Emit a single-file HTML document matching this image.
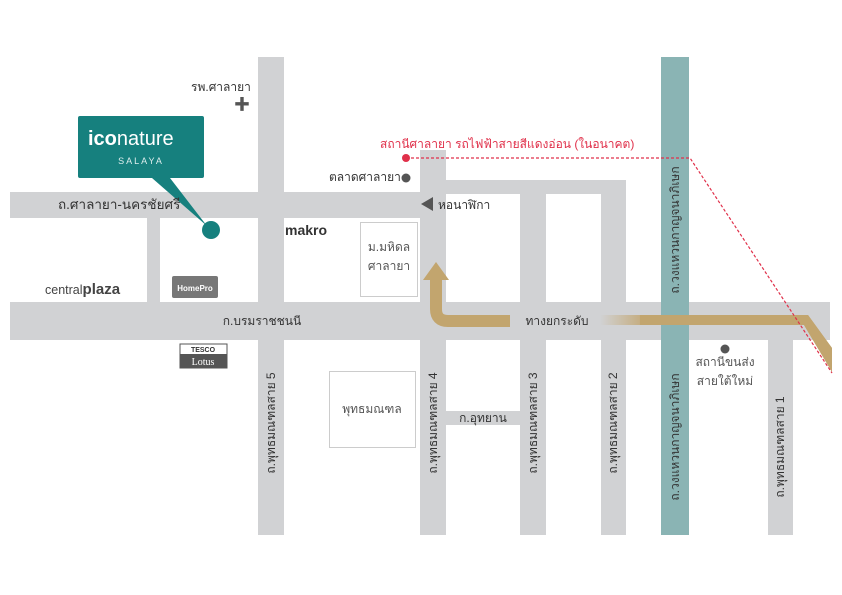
<!DOCTYPE html>
<html><head><meta charset="utf-8"><style>
html,body{margin:0;padding:0;background:#fff;}
svg{display:block;font-family:"Liberation Sans","Noto Sans CJK SC","WenQuanYi Zen Hei",sans-serif;}
</style></head><body>
<svg width="842" height="595" viewBox="0 0 842 595" xmlns="http://www.w3.org/2000/svg">
<defs>
<linearGradient id="gf" x1="600" y1="0" x2="650" y2="0" gradientUnits="userSpaceOnUse">
<stop offset="0" stop-color="#c2a56e" stop-opacity="0"/><stop offset="1" stop-color="#c2a56e" stop-opacity="1"/>
</linearGradient>
</defs>
<g fill="#d1d2d4">
<rect x="10" y="192" width="436" height="26"/>
<rect x="420" y="180" width="206" height="14"/>
<rect x="420" y="150" width="26" height="385"/>
<rect x="258" y="57" width="26" height="478"/>
<rect x="147" y="216" width="13" height="90"/>
<rect x="520" y="180" width="26" height="355"/>
<rect x="601" y="180" width="25" height="355"/>
<rect x="768" y="320" width="25" height="215"/>
<rect x="10" y="302" width="820" height="38"/>
<rect x="446" y="411" width="74" height="14"/>
</g>
<rect x="661" y="57" width="28" height="478" fill="#8ab4b4"/>
<rect x="360.5" y="222.5" width="57" height="74" fill="#fff" stroke="#ccc"/>
<rect x="329.5" y="371.5" width="86" height="76" fill="#fff" stroke="#ccc"/>
<path d="M510 321 H448 Q436 321 436 309 V278" fill="none" stroke="#c2a56e" stroke-width="12"/>
<polygon points="423,280 449,280 436,262" fill="#c2a56e"/>
<polygon points="600,315 808,315 832,348 832,372 804,325 600,325" fill="url(#gf)"/>
<polygon points="640,315 808,315 832,348 832,372 804,325 640,325" fill="#c2a56e"/>
<polyline points="406,158 690,158 832,373" fill="none" stroke="#e0304a" stroke-width="1.2" stroke-dasharray="3,2"/>
<circle cx="406" cy="158" r="4" fill="#e0304a"/>
<path d="M80 116 H202 Q204 116 204 118 V176 Q204 178 202 178 H170 L207 226 L152 178 H80 Q78 178 78 176 V118 Q78 116 80 116Z" fill="#16807e"/>
<circle cx="211" cy="230" r="9" fill="#16807e"/>
<text x="88" y="145" font-size="20" fill="#fff"><tspan font-weight="bold">ico</tspan>nature</text>
<text x="141" y="164" font-size="9" fill="#dfeeee" text-anchor="middle" letter-spacing="2">SALAYA</text>
<g font-size="12" fill="#333">
<text x="191" y="91">รพ.ศาลายา</text>
<text x="58" y="209" font-size="13.5">ถ.ศาลายา-นครชัยศรี</text>
<text x="329" y="181">ตลาดศาลายา</text>
<text x="438" y="209">หอนาฬิกา</text>
<text x="389" y="251" text-anchor="middle" fill="#555">ม.มหิดล</text>
<text x="389" y="270" text-anchor="middle" fill="#555">ศาลายา</text>
<text x="372" y="413" text-anchor="middle" fill="#555">พุทธมณฑล</text>
<text x="262" y="325" text-anchor="middle">ก.บรมราชชนนี</text>
<text x="557" y="325" text-anchor="middle">ทางยกระดับ</text>
<text x="483" y="422" text-anchor="middle">ก.อุทยาน</text>
<text x="725" y="366" text-anchor="middle" fill="#555">สถานีขนส่ง</text>
<text x="725" y="385" text-anchor="middle" fill="#555">สายใต้ใหม่</text>
<text x="45" y="294" fill="#444" font-size="12.5">central<tspan font-weight="bold" font-size="15">plaza</tspan></text>
<text x="285" y="235" font-weight="bold" font-size="14">makro</text>
</g>
<text x="380" y="148" font-size="12" fill="#e0304a">สถานีศาลายา  รถไฟฟ้าสายสีแดงอ่อน (ในอนาคต)</text>
<text x="242" y="110" font-size="16" fill="#555" text-anchor="middle" font-weight="bold">✚</text>
<circle cx="406" cy="178" r="4.5" fill="#555"/>
<polygon points="421,204 433,197 433,211" fill="#555"/>
<circle cx="725" cy="349" r="4.5" fill="#555"/>
<rect x="172" y="276" width="46" height="22" rx="2" fill="#777"/>
<text x="195" y="291" font-size="8" fill="#fff" text-anchor="middle" font-weight="bold">HomePro</text>
<rect x="180" y="344" width="47" height="24" fill="#fff" stroke="#555"/>
<text x="203" y="352" font-size="7" fill="#333" text-anchor="middle" font-weight="bold">TESCO</text>
<rect x="180" y="354" width="47" height="14" fill="#555"/>
<text x="203" y="365" font-size="10" fill="#fff" text-anchor="middle" font-family="Liberation Serif,serif">Lotus</text>
<g font-size="12" fill="#333" text-anchor="middle">
<text transform="translate(275,423) rotate(-90)">ถ.พุทธมณฑลสาย 5</text>
<text transform="translate(437,423) rotate(-90)">ถ.พุทธมณฑลสาย 4</text>
<text transform="translate(537,423) rotate(-90)">ถ.พุทธมณฑลสาย 3</text>
<text transform="translate(617,423) rotate(-90)">ถ.พุทธมณฑลสาย 2</text>
<text transform="translate(784,447) rotate(-90)">ถ.พุทธมณฑลสาย 1</text>
<text transform="translate(679,437) rotate(-90)">ถ.วงแหวนกาญจนาภิเษก</text>
<text transform="translate(679,230) rotate(-90)">ถ.วงแหวนกาญจนาภิเษก</text>
</g>
</svg>
</body></html>
